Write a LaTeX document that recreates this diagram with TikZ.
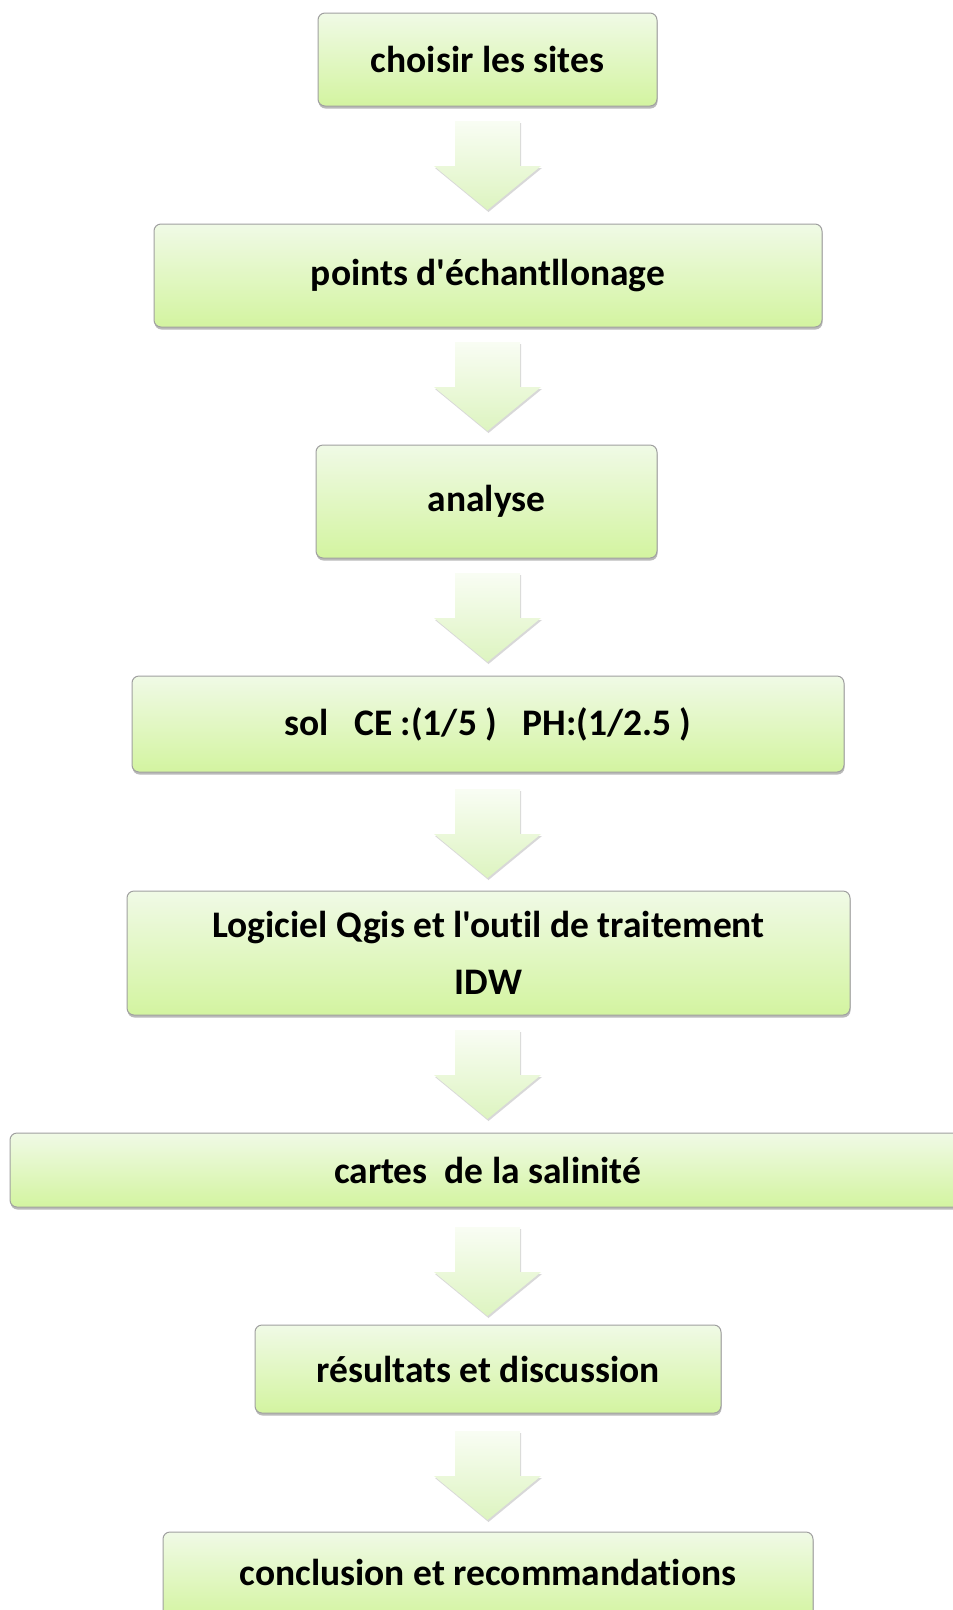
\documentclass[tikz,border=0pt]{standalone}
\usepackage{fontspec}
\newfontfamily\calfont{Carlito}[Ligatures=NoCommon]
\usetikzlibrary{shadows}
\definecolor{boxtop}{HTML}{F0FAE6}
\definecolor{boxbot}{HTML}{D3F4A0}
\definecolor{boxline}{HTML}{A0A0A0}
\definecolor{arrtop}{HTML}{F9FDF4}
\definecolor{arrbot}{HTML}{DDF4C0}
\begin{document}
\begin{tikzpicture}[x=1pt,y=1pt,
  txt/.style={font=\calfont\bfseries\fontsize{37.5}{57}\selectfont, align=center},
  stepbox/.style={rectangle, rounded corners=7pt, draw=boxline, line width=1pt,
    top color=boxtop, bottom color=boxbot, txt, inner sep=0pt,
    drop shadow={shadow xshift=0.5pt, shadow yshift=-2.5pt, opacity=0.45, fill=black!60}},
  arrfill/.style={top color=arrtop, bottom color=arrbot,
    drop shadow={shadow xshift=1pt, shadow yshift=-2pt, opacity=0.3, fill=black!50}},
  blockarr/.pic={
    \path[arrfill] (-32.5,0) -- (32.5,0) -- (32.5,-45) -- (53.5,-45) -- (0,-89)
      -- (-53.5,-45) -- (-32.5,-45) -- cycle;
  }
]
\useasboundingbox (0,0) rectangle (953,-1610);
\fill[white] (0,0) rectangle (953,-1610);

\node[stepbox, minimum width=339pt, minimum height=93pt] (n1) at (487.5,-59.5) {choisir les sites};
\node[stepbox, minimum width=668pt, minimum height=103pt] (n2) at (488,-275.5) {points d'échantllonage};
\node[stepbox, minimum width=341pt, minimum height=113pt] (n3) at (486.5,-501.5) {analyse};
\node[stepbox, minimum width=712pt, minimum height=96pt] (n4) at (488,-724) {sol\ \ \ CE :(1/5 )\ \ \ PH:(1/2.5 )};
\node[stepbox, minimum width=723pt, minimum height=124pt] (n5) at (488.5,-953) {Logiciel Qgis et l'outil de traitement\\IDW};
\node[stepbox, minimum width=965pt, minimum height=74pt] (n6) at (492.5,-1170) {};
\node[txt] (t6) at (487.5,-1170) {cartes\ \ de la salinité};
\node[stepbox, minimum width=466pt, minimum height=88pt] (n7) at (488,-1369) {résultats et discussion};
\node[stepbox, minimum width=650pt, minimum height=88pt] (n8) at (488,-1576) {};
\node[txt] (t8) at (488,-1572) {conclusion et recommandations};

\pic at (487.5,-121) {blockarr};
\pic at (487.5,-342) {blockarr};
\pic at (487.5,-573) {blockarr};
\pic at (487.5,-789) {blockarr};
\pic at (487.5,-1030) {blockarr};
\pic at (487.5,-1227) {blockarr};
\pic at (487.5,-1431) {blockarr};
\end{tikzpicture}
\end{document}
